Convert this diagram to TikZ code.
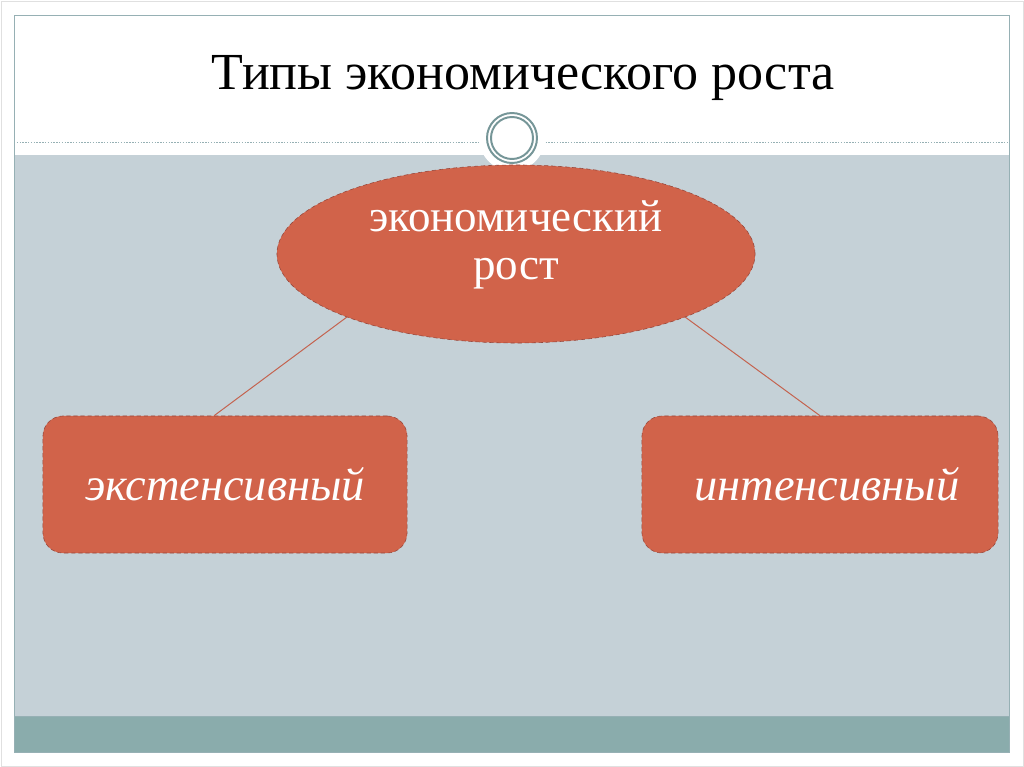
\documentclass[tikz,border=0pt]{standalone}
\usepackage{fontspec}
\setmainfont{Liberation Serif}
\usetikzlibrary{positioning,calc,shapes.geometric}

\definecolor{slidegray}{RGB}{197,209,215}
\definecolor{slideteal}{RGB}{138,172,172}
\definecolor{framegray}{RGB}{150,176,180}
\definecolor{ringgray}{RGB}{118,150,152}
\definecolor{brick}{RGB}{209,99,74}
\definecolor{brickdark}{RGB}{150,70,58}
\definecolor{linkred}{RGB}{196,98,78}

\begin{document}
\begin{tikzpicture}[x=0.025cm,y=-0.025cm,
		shapefill/.style={fill=brick, draw=brickdark, densely dashed, line width=0.4pt, text=white},
		oval/.style={shapefill, ellipse, minimum width=11.95cm, minimum height=4.45cm, inner sep=0pt},
		ovaltext/.style={text=white, align=center, font=\fontsize{32}{34.5}\selectfont},
		roundbox/.style={shapefill, rounded corners=0.5cm, minimum height=3.425cm, inner sep=0pt,
			font=\fontsize{33}{36}\selectfont\itshape},
		link/.style={draw=linkred, line width=0.7pt}]
		\useasboundingbox (0,0) rectangle (1024,767);
		
		% slide frame and bands
		\draw[black!12] (1,1) rectangle (1023,766);
		\fill[slidegray] (14,155) rectangle (1009,716);
		\fill[slideteal] (14,716) rectangle (1009,752);
		\draw[framegray, line width=0.5pt] (14,716) -- (1009,716);
		\draw[framegray, line width=0.6pt] (14,15) rectangle (1009,752);
		\draw[framegray, line width=0.5pt, dash pattern=on 1pt off 1pt] (14,142) -- (1009,142);
		
		% ring on the divider
		\fill[white] (512,138) circle (33);
		\draw[ringgray, line width=1.4pt] (512,138) circle (25);
		\draw[ringgray, line width=1.4pt] (512,138) circle (21);
		
		\node (title) at (523,78) {\fontsize{37}{40}\selectfont Типы экономического роста};
		
		\node[oval] (ell) at (516,254) {};
		\node[ovaltext] (elltext) at (516,245) {экономический\\рост};
		\node[roundbox, minimum width=9.1cm] (ext) at (225,484.5) {экстенсивный};
		\node[roundbox, minimum width=8.9cm] (int) at (820,484.5) {\hspace*{0.35cm}интенсивный};
		
		\draw[link] (ell.south west) -- ($(ext.north west)!.47!(ext.north east)$);
		\draw[link] (ell.south east) -- (int.north);
	\end{tikzpicture}
\end{document}
